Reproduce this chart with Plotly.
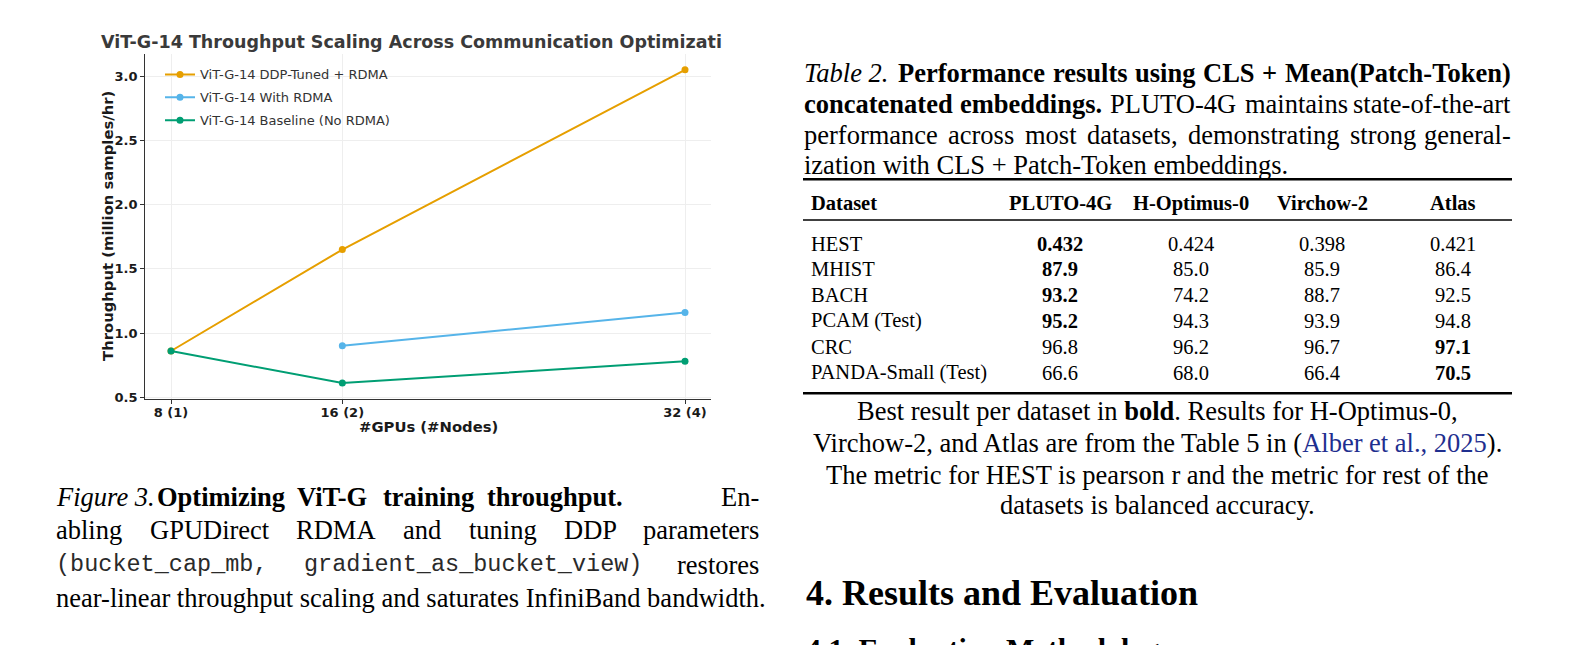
import plotly.graph_objects as go

W, H = 1570, 645

# ---------------- chart data ----------------
gpu_counts = [8, 16, 32]
gpu_labels = ["8 (1)", "16 (2)", "32 (4)"]
series_names = ["ViT-G-14 DDP-Tuned + RDMA", "ViT-G-14 With RDMA", "ViT-G-14 Baseline (No RDMA)"]
ddp_tuned = [0.86, 1.65, 3.05]
with_rdma = [None, 0.90, 1.16]
baseline = [0.86, 0.61, 0.78]
series_colors = ["#E69F00", "#56B4E9", "#009E73"]
y_ticks = [0.5, 1.0, 1.5, 2.0, 2.5, 3.0]

# ---------------- table data ----------------
table_header = ["Dataset", "PLUTO-4G", "H-Optimus-0", "Virchow-2", "Atlas"]
table_datasets = ["HEST", "MHIST", "BACH", "PCAM (Test)", "CRC", "PANDA-Small (Test)"]
pluto_4g = ["0.432", "87.9", "93.2", "95.2", "96.8", "66.6"]
h_optimus_0 = ["0.424", "85.0", "74.2", "94.3", "96.2", "68.0"]
virchow_2 = ["0.398", "85.9", "88.7", "93.9", "96.7", "66.4"]
atlas = ["0.421", "86.4", "92.5", "94.8", "97.1", "70.5"]

SERIF = "Liberation Serif"
MONO = "Liberation Mono"
SANS = "DejaVu Sans"

# Times metrics (per 1000 em) for justification
def _mk(spec):
    d = {}
    for item in spec.split():
        ch, w = item.rsplit(":", 1)
        d[ch] = int(w)
    return d

_common_r = "(:333 ):333 +:564 ,:250 -:333 .:250 /:278 0:500 1:500 2:500 3:500 4:500 5:500 6:500 7:500 8:500 9:500 _:500"
TR = _mk(_common_r + " A:722 B:667 C:667 D:722 E:611 F:556 G:722 H:722 I:333 J:389 K:722 L:611 M:889 N:722 O:722 P:556 Q:722 R:667 S:556 T:611 U:722 V:722 W:944 X:722 Y:722 Z:611 a:444 b:500 c:444 d:500 e:444 f:333 g:500 h:500 i:278 j:278 k:500 l:278 m:778 n:500 o:500 p:500 q:500 r:333 s:389 t:278 u:500 v:500 w:722 x:500 y:500 z:444")
TB = _mk("(:333 ):333 +:570 ,:250 -:333 .:250 0:500 1:500 2:500 3:500 4:500 5:500 6:500 7:500 8:500 9:500 A:722 B:667 C:722 D:722 E:667 F:611 G:778 H:778 I:389 J:500 K:778 L:667 M:944 N:722 O:778 P:611 Q:778 R:722 S:556 T:667 U:722 V:722 W:1000 X:722 Y:722 Z:667 a:500 b:556 c:444 d:556 e:444 f:333 g:500 h:556 i:278 j:333 k:556 l:278 m:833 n:556 o:500 p:556 q:556 r:444 s:389 t:333 u:556 v:500 w:722 x:500 y:500 z:444")
TI = _mk(".:250 0:500 1:500 2:500 3:500 4:500 5:500 6:500 7:500 8:500 9:500 A:611 B:611 C:667 D:722 E:611 F:611 G:722 H:722 I:333 J:444 K:667 L:556 M:833 N:667 O:722 P:611 Q:722 R:611 S:500 T:556 U:722 V:611 W:833 X:611 Y:556 Z:556 a:500 b:500 c:444 d:500 e:444 f:278 g:500 h:500 i:278 j:278 k:444 l:278 m:722 n:500 o:500 p:500 q:500 r:389 s:389 t:278 u:500 v:444 w:667 x:444 y:444 z:389")


def px_x(x):
    return x / W


def px_y(y):
    return 1 - y / H


annotations = []
shapes = []


def add_text(x, y, s, size, family=SERIF, color="#000000", xanchor="left", yanchor="middle", angle=0):
    annotations.append(dict(
        x=px_x(x), y=px_y(y), xref="paper", yref="paper", text=s, showarrow=False,
        xanchor=xanchor, yanchor=yanchor, textangle=angle, borderpad=0,
        font=dict(size=size, family=family, color=color)))


def text_width(t, style, size):
    if style == "m":
        return len(t) * 0.6 * size
    tab = {"r": TR, "b": TB, "i": TI}[style]
    return sum(tab.get(c, 250 if c == " " else 500) for c in t) / 1000.0 * size


def html(t, style):
    if style == "b":
        return "<b>%s</b>" % t
    if style == "i":
        return "<i>%s</i>" % t
    return t


def justify(words, x0, x1, y, size, weights=None, mono_size=None):
    """words: list of (text, style). Spread words between x0 and x1."""
    sizes = [mono_size if (st == "m" and mono_size) else size for _, st in words]
    widths = [text_width(t, st, sz) for (t, st), sz in zip(words, sizes)]
    n = len(words)
    if weights is None:
        weights = [1.0] * (n - 1)
    extra = (x1 - x0) - sum(widths)
    tw = float(sum(weights))
    x = x0
    for i, ((t, st), w, sz) in enumerate(zip(words, widths, sizes)):
        fam = MONO if st == "m" else SERIF
        col = "#2a2a2a" if st == "m" else "#000000"
        if i == n - 1:
            add_text(x1, y, html(t, st), sz, family=fam, color=col, xanchor="right")
        else:
            add_text(x, y, html(t, st), sz, family=fam, color=col, xanchor="left")
            x += w + extra * weights[i] / tw


# ---------------- figure (chart) ----------------
fig = go.Figure()
series = [ddp_tuned, with_rdma, baseline]
for name, vals, col in zip(series_names, series, series_colors):
    fig.add_trace(go.Scatter(
        x=gpu_counts, y=vals, name=name, mode="lines+markers",
        line=dict(color=col, width=2), marker=dict(color=col, size=7),
        legendgroup=name, connectgaps=False))

x_dom = [px_x(145.3), px_x(710.7)]
y_dom = [px_y(402.5), px_y(54.7)]

axis_common = dict(
    showline=True, linecolor="#333333", linewidth=1.3, mirror=False,
    ticks="outside", ticklen=4, tickwidth=1, tickcolor="#333333",
    showgrid=True, gridcolor="#eeeeee", gridwidth=0.8, zeroline=False,
    tickfont=dict(family=SANS, size=13, color="#1a1a1a", weight="bold"),
)

fig.update_layout(
    width=W, height=H, autosize=False,
    margin=dict(l=0, r=0, t=0, b=0, pad=0),
    paper_bgcolor="white", plot_bgcolor="white",
    font=dict(family=SANS),
    xaxis=dict(domain=x_dom, range=[6.8, 33.2], tickvals=gpu_counts, ticktext=gpu_labels,
               ticklabelstandoff=-3, **axis_common),
    yaxis=dict(domain=y_dom, range=[0.488, 3.172], tickvals=y_ticks, tickformat=".1f", **axis_common),
    legend=dict(x=px_x(160), y=px_y(60), xanchor="left", yanchor="top",
                bgcolor="rgba(255,255,255,0)", borderwidth=0,
                font=dict(family=SANS, size=13, color="#333333"),
                tracegroupgap=3, itemwidth=30),
    showlegend=True,
)

# chart title and axis titles
add_text(100, 42, "<b>ViT-G-14 Throughput Scaling Across Communication Optimizati</b>", 17.5, family=SANS, color="#3a3a3a")
add_text(428, 430, "<b>#GPUs (#Nodes)</b>", 14.8, family=SANS, color="#1a1a1a", xanchor="center")
add_text(108, 228, "<b>Throughput (million samples/hr)</b>", 14.8, family=SANS, color="#1a1a1a", xanchor="center", angle=-90)

# ---------------- left caption ----------------
CS = 26.5
LX0, LX1 = 55, 760
justify([("Figure 3.", "i"), ("Optimizing", "b"), ("ViT-G", "b"), ("training", "b"),
         ("throughput.", "b"), ("En-", "r")], LX0, LX1, 502, CS, weights=[0.15, 1, 1, 1, 8])
justify([("abling", "r"), ("GPUDirect", "r"), ("RDMA", "r"), ("and", "r"), ("tuning", "r"),
         ("DDP", "r"), ("parameters", "r")], LX0, LX1, 535, CS)
justify([("(bucket_cap_mb,", "m"), ("gradient_as_bucket_view)", "m"), ("restores", "r")],
        LX0, LX1, 570, CS, mono_size=23.5)
add_text(LX0, 604, "near-linear throughput scaling and saturates InfiniBand bandwidth.", CS)

# ---------------- right caption ----------------
RX0, RX1 = 803, 1512
justify([("Table 2.", "i"), ("Performance", "b"), ("results", "b"), ("using", "b"), ("CLS", "b"),
         ("+", "b"), ("Mean(Patch-Token)", "b")], RX0, RX1, 74, CS)
justify([("concatenated", "b"), ("embeddings.", "b"), ("PLUTO-4G", "r"), ("maintains", "r"),
         ("state-of-the-art", "r")], RX0, RX1, 105, CS)
justify([("performance", "r"), ("across", "r"), ("most", "r"), ("datasets,", "r"),
         ("demonstrating", "r"), ("strong", "r"), ("general-", "r")], RX0, RX1, 136, CS)
add_text(RX0, 167, "ization with CLS + Patch-Token embeddings.", CS)

# ---------------- table ----------------
TS = 20.5
col_centers = [1060, 1191, 1322, 1453]
header_y = 205
row_y0, row_dy = 246, 26
add_text(810, header_y, "<b>%s</b>" % table_header[0], TS)
for cx, h in zip(col_centers, table_header[1:]):
    add_text(cx, header_y, "<b>%s</b>" % h, TS, xanchor="center")
columns = [pluto_4g, h_optimus_0, virchow_2, atlas]
for i, ds in enumerate(table_datasets):
    y = row_y0 + row_dy * i
    add_text(810, y, ds, TS)
    row_vals = [c[i] for c in columns]
    best = max(range(len(row_vals)), key=lambda k: float(row_vals[k]))
    for k, (cx, v) in enumerate(zip(col_centers, row_vals)):
        add_text(cx, y, "<b>%s</b>" % v if k == best else v, TS, xanchor="center")

for ry, lw in [(181, 2.4), (222, 1.4), (397, 2.4)]:
    shapes.append(dict(type="line", xref="paper", yref="paper",
                       x0=px_x(RX0), x1=px_x(RX1), y0=px_y(ry), y1=px_y(ry),
                       line=dict(color="#000000", width=lw)))

# ---------------- text below table ----------------
CX = (RX0 + RX1) / 2
add_text(CX, 415, "Best result per dataset in <b>bold</b>. Results for H-Optimus-0,", CS, xanchor="center")
add_text(CX, 447, "Virchow-2, and Atlas are from the Table 5 in (<span style='color:#1f2f8f'>Alber et al., 2025</span>).", CS, xanchor="center")
add_text(CX, 479, "The metric for HEST is pearson r and the metric for rest of the", CS, xanchor="center")
add_text(CX, 510, "datasets is balanced accuracy.", CS, xanchor="center")

add_text(805, 599, "<b>4. Results and Evaluation</b>", 36)
add_text(805, 655, "<b>4.1. Evaluation Methodology</b>", 30)

fig.update_layout(annotations=annotations, shapes=shapes)
fig.write_html("out.html", config={"displayModeBar": False},
               post_script="document.body.style.margin='0';document.body.style.padding='0';")
